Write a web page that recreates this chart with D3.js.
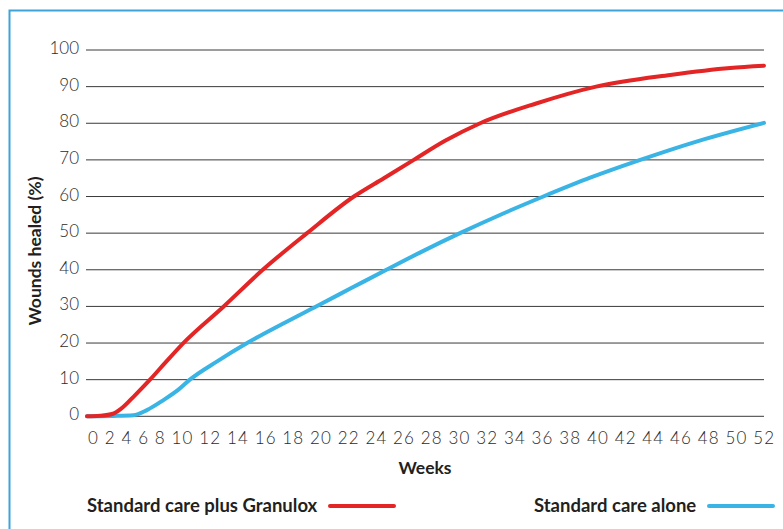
<!DOCTYPE html>
<html>
<head>
<meta charset="utf-8">
<script src="https://cdn.jsdelivr.net/npm/d3@7"></script>
<style>
  body { margin: 0; background: #fff; }
  svg { display: block; }
  .grid { stroke: #3a3a3a; stroke-width: 1; }
  .tick-label { font-family: Lato, sans-serif; font-weight: 300; font-size: 17px; fill: #2b2b2b; }
  .title { font-family: Lato, sans-serif; font-weight: 700; font-size: 17.5px; fill: #231f20; }
  .legend { font-family: Lato, sans-serif; font-weight: 700; font-size: 18.5px; fill: #231f20; }
  .curve { fill: none; stroke-width: 4; stroke-linecap: round; stroke-linejoin: round; }
</style>
</head>
<body>
<svg id="chart"></svg>
<script>
const WIDTH = 783;
const HEIGHT = 529;

// weeks are read against the plot area (0 at the left end, 52 at the right end)
const granuloxWeeks = [0, 1, 2, 2.6, 3.7, 4.84, 6.1, 7.4, 10.5, 13.5, 16.9, 20.5, 22.8, 25.1, 27.5, 30.2, 34.5, 39.1, 44.8, 49.4, 52];
const granuloxHealed = [0, 0.15, 0.7, 2, 5.8, 10, 15, 20, 30, 40, 50, 60, 65, 70, 75.2, 80, 85.4, 90, 93.2, 95.1, 95.7];

const aloneWeeks = [0, 2, 3.56, 4.6, 5.9, 7, 7.9, 10, 12.3, 15, 17.6, 20.3, 23, 25.8, 28.65, 31.8, 35.05, 38.7, 42.5, 47, 52];
const aloneHealed = [0, 0.1, 0.3, 1.7, 4.5, 7.2, 10, 15, 20, 25.2, 30, 35, 40, 45.1, 50, 55.1, 60, 65.2, 70, 75.2, 80.1];

const yTicks = [0, 10, 20, 30, 40, 50, 60, 70, 80, 90, 100];
const xTickLabels = [0, 2, 4, 6, 8, 10, 12, 14, 16, 18, 20, 22, 24, 26, 28, 30, 32, 34, 36, 38, 40, 42, 44, 46, 48, 50, 52];

const RED = '#e32526';
const BLUE = '#3ab4e5';

const svg = d3.select('#chart')
  .attr('width', WIDTH)
  .attr('height', HEIGHT);

// blue frame, runs off the right and bottom edges
svg.append('rect')
  .attr('x', 9.5)
  .attr('y', 10.5)
  .attr('width', WIDTH + 20)
  .attr('height', HEIGHT + 20)
  .attr('fill', 'none')
  .attr('stroke', '#3ea3d8')
  .attr('stroke-width', 2);

const x = d3.scaleLinear().domain([0, 52]).range([87, 764]);
const y = d3.scaleLinear().domain([0, 100]).range([416.3, 50]);

svg.append('g')
  .selectAll('line')
  .data(yTicks)
  .enter()
    .append('line')
    .classed('grid', true)
    .attr('x1', 86)
    .attr('x2', 764)
    .attr('y1', (d) => y(d))
    .attr('y2', (d) => y(d));

svg.append('g')
  .selectAll('text')
  .data(yTicks)
  .enter()
    .append('text')
    .classed('tick-label', true)
    .attr('x', 79)
    .attr('y', (d) => y(d) + 4)
    .attr('text-anchor', 'end')
    .text((d) => d);

// week labels are set as one line of text, spread over the axis
svg.append('text')
  .classed('tick-label', true)
  .attr('x', 88)
  .attr('y', 444)
  .attr('textLength', 686)
  .attr('lengthAdjust', 'spacing')
  .text(xTickLabels.join(' '));

svg.append('text')
  .classed('title', true)
  .attr('x', 425)
  .attr('y', 474)
  .attr('text-anchor', 'middle')
  .text('Weeks');

svg.append('text')
  .classed('title', true)
  .attr('transform', 'translate(41,251) rotate(-90)')
  .attr('text-anchor', 'middle')
  .text('Wounds healed (%)');

const line = d3.line()
  .x((d) => x(d[0]))
  .y((d) => y(d[1]))
  .curve(d3.curveMonotoneX);

const series = [
  { weeks: aloneWeeks, healed: aloneHealed, color: BLUE },
  { weeks: granuloxWeeks, healed: granuloxHealed, color: RED },
];

svg.append('g')
  .selectAll('path')
  .data(series)
  .enter()
    .append('path')
    .classed('curve', true)
    .attr('stroke', (d) => d.color)
    .attr('d', (d) => line(d.weeks.map((w, i) => [w, d.healed[i]])));

// legend
const legend = [
  { label: 'Standard care plus Granulox', color: RED, textX: 87, lineX: 330 },
  { label: 'Standard care alone', color: BLUE, textX: 534, lineX: 709 },
];

const items = svg.append('g')
  .selectAll('g')
  .data(legend)
  .enter()
    .append('g');
items
  .append('text')
  .classed('legend', true)
  .attr('x', (d) => d.textX)
  .attr('y', 512)
  .text((d) => d.label);
items
  .append('line')
  .attr('x1', (d) => d.lineX)
  .attr('x2', (d) => d.lineX + 64)
  .attr('y1', 506)
  .attr('y2', 506)
  .attr('stroke', (d) => d.color)
  .attr('stroke-width', 4)
  .attr('stroke-linecap', 'round');
</script>
</body>
</html>
